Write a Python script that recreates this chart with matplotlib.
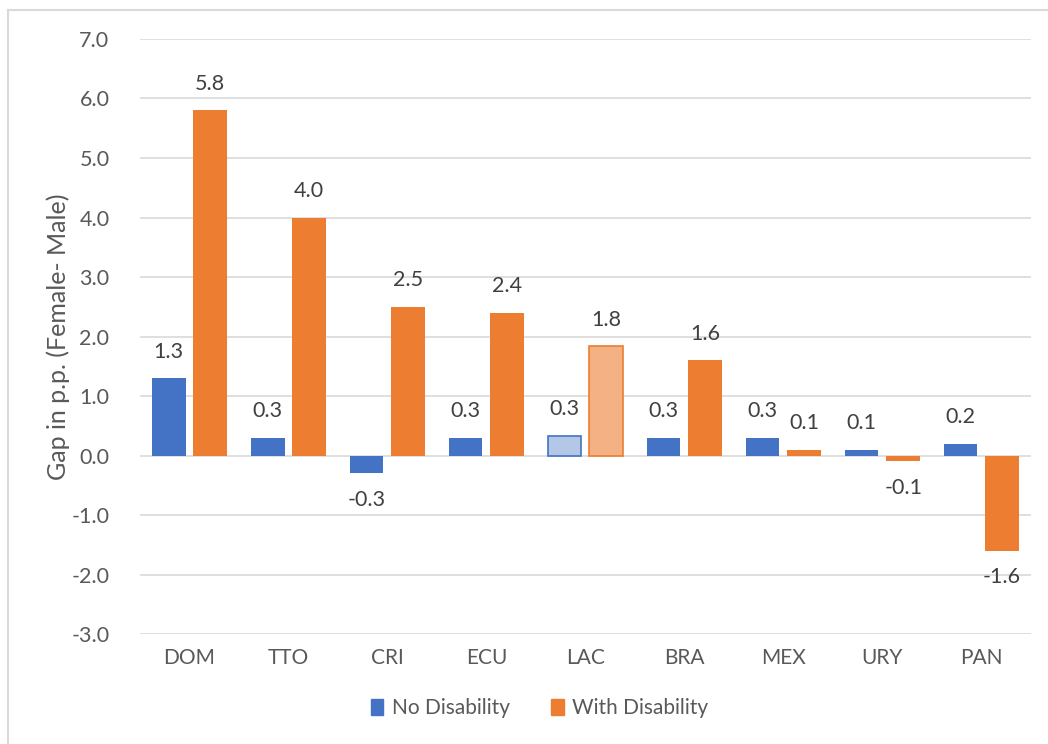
import numpy as np
import matplotlib.pyplot as plt
from matplotlib.patches import Patch
from matplotlib.lines import Line2D

plt.rcParams['font.family'] = ['Lato', 'DejaVu Sans']

# gap in percentage points, female minus male
countries = ['DOM', 'TTO', 'CRI', 'ECU', 'LAC', 'BRA', 'MEX', 'URY', 'PAN']
no_disability = [1.3, 0.3, -0.3, 0.3, 0.33, 0.3, 0.3, 0.1, 0.2]
with_disability = [5.8, 4.0, 2.5, 2.4, 1.84, 1.6, 0.1, -0.1, -1.6]
highlight = 'LAC'

blue, orange = '#4472c4', '#ed7d31'
blue_lt, orange_lt = '#b4c7e7', '#f4b183'
txt = '#595959'

fig = plt.figure(figsize=(10.48, 7.44), dpi=100)
ax = fig.add_axes([0.1336, 0.1478, 0.850, 0.7998])

x = np.arange(len(countries))
w = 0.34
off = 0.21

for i, c in enumerate(countries):
    lt = c == highlight
    ax.bar(x[i] - off, no_disability[i], w,
           color=blue_lt if lt else blue, edgecolor=blue, linewidth=1.2 if lt else 0, zorder=3)
    ax.bar(x[i] + off, with_disability[i], w,
           color=orange_lt if lt else orange, edgecolor=orange, linewidth=1.2 if lt else 0, zorder=3)

# value labels above/below each bar
for xs, vals in ((x - off, no_disability), (x + off, with_disability)):
    for xi, v in zip(xs, vals):
        dy = 19 if v >= 0 else -19
        ax.annotate(f'{v:.1f}', (xi, v), xytext=(0, dy), textcoords='offset points',
                    ha='center', va='center', fontsize=15.5, color='#404040')

ax.set_xlim(-0.5, len(countries) - 0.5)
ax.set_ylim(-3, 7)
ax.set_yticks(np.arange(-3, 8, 1))
ax.set_yticklabels([f'{t:.1f}' for t in np.arange(-3, 8, 1)])
ax.set_xticks(x)
ax.set_xticklabels(countries)
ax.tick_params(length=0, labelsize=15, colors=txt)
ax.tick_params(axis='y', labelsize=15.5, pad=22)
ax.tick_params(axis='x', pad=10)
ax.grid(axis='y', color='#d9d9d9', linewidth=1.2, zorder=0)
for s in ax.spines.values():
    s.set_visible(False)
ax.set_ylabel('Gap in p.p. (Female- Male)', fontsize=18, color=txt, va='center')
ax.yaxis.set_label_coords(-0.092, 0.5)

handles = [Patch(color=blue, label='No Disability'), Patch(color=orange, label='With Disability')]
fig.legend(handles=handles, loc='center', bbox_to_anchor=(0.515, 0.048), ncol=2, frameon=False,
           fontsize=15, labelcolor=txt, handlelength=0.6, handleheight=0.8,
           handletextpad=0.4, columnspacing=2.0)

# chart frame (top and left edges)
fig.add_artist(Line2D([8 / 1048, 8 / 1048], [0, 1 - 10 / 744], color='#d9d9d9', linewidth=1.5))
fig.add_artist(Line2D([8 / 1048, 1], [1 - 10 / 744, 1 - 10 / 744], color='#d9d9d9', linewidth=1.5))

fig.savefig('out.png', dpi=100)
